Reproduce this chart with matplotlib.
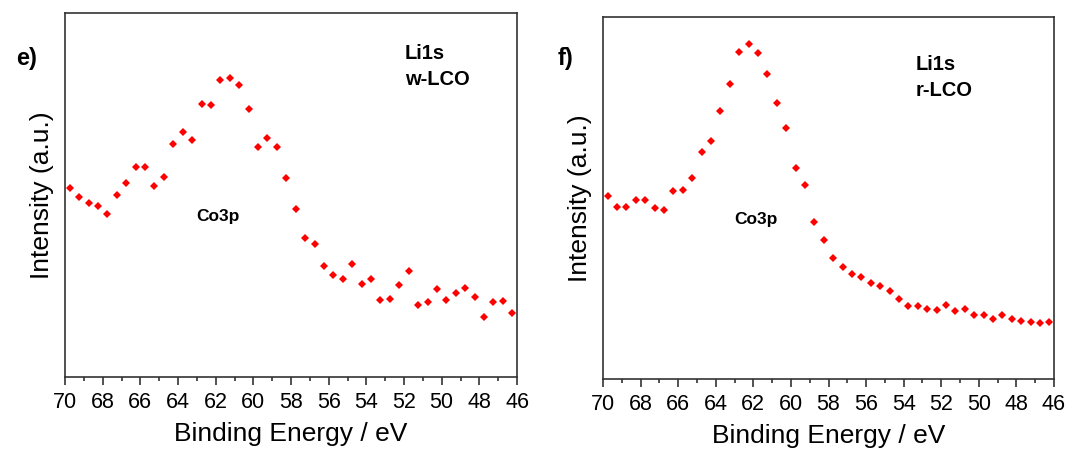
import matplotlib
matplotlib.use("Agg")
import matplotlib.pyplot as plt
from matplotlib.ticker import MultipleLocator

plt.rcParams['font.family'] = ['Liberation Sans', 'DejaVu Sans']

# binding energy grid (eV), same for both scans
energy = [69.75, 69.25, 68.75, 68.25, 67.75, 67.25, 66.75, 66.25,
          65.75, 65.25, 64.75, 64.25, 63.75, 63.25, 62.75, 62.25,
          61.75, 61.25, 60.75, 60.25, 59.75, 59.25, 58.75, 58.25,
          57.75, 57.25, 56.75, 56.25, 55.75, 55.25, 54.75, 54.25,
          53.75, 53.25, 52.75, 52.25, 51.75, 51.25, 50.75, 50.25,
          49.75, 49.25, 48.75, 48.25, 47.75, 47.25, 46.75, 46.25]

# Li1s region, w-LCO (arb. units)
w_lco = [52.0, 49.4, 47.7, 47.1, 44.8, 49.9, 53.2, 57.6,
         57.8, 52.5, 55.0, 63.9, 67.4, 65.1, 74.9, 74.6,
         81.5, 82.2, 80.1, 73.7, 63.1, 65.7, 63.1, 54.7,
         46.2, 38.2, 36.5, 30.5, 28.0, 26.8, 31.0, 25.5,
         27.0, 21.2, 21.5, 25.4, 29.0, 19.9, 20.7, 24.2,
         21.2, 23.1, 24.5, 22.1, 16.4, 20.7, 20.9, 17.7]

# Li1s region, r-LCO (arb. units)
r_lco = [50.6, 47.5, 47.5, 49.4, 49.4, 47.2, 46.6, 51.9,
         52.1, 55.4, 62.8, 65.7, 74.1, 81.4, 90.2, 92.6,
         90.0, 84.2, 76.2, 69.3, 58.3, 53.6, 43.3, 38.4,
         33.5, 31.0, 28.9, 28.3, 26.6, 25.8, 24.2, 22.2,
         20.2, 20.2, 19.4, 19.1, 20.5, 18.8, 19.3, 17.7,
         17.6, 16.7, 17.8, 16.5, 16.1, 15.7, 15.6, 15.8]

W, H = 1071, 454
fig = plt.figure(figsize=(W / 100, H / 100), dpi=100)

# letter, sample, data, axes box in px (left, bottom, right, top), label spot
panels = [
    ("e)", "w-LCO", w_lco, [65, 377, 517, 13], (0.752, 0.915)),
    ("f)", "r-LCO", r_lco, [603, 379, 1054, 17], (0.694, 0.895)),
]

for letter, sample, vals, (x0, yb, x1, yt), (tx, ty) in panels:
    ax = fig.add_axes([x0 / W, (H - yb) / H, (x1 - x0) / W, (yb - yt) / H])
    ax.plot(energy, vals, 'D', color='#ff0000', markersize=3.8, markeredgewidth=0)
    ax.set_xlim(70, 46)
    ax.set_ylim(0, 100)
    ax.xaxis.set_major_locator(MultipleLocator(2))
    ax.xaxis.set_minor_locator(MultipleLocator(1))
    ax.set_yticks([])
    ax.tick_params(axis='x', which='major', direction='out', length=6, width=1.1,
                   labelsize=15.5, pad=4.5, colors='#222222', labelcolor='black')
    ax.tick_params(axis='x', which='minor', direction='out', length=3, width=1.1,
                   colors='#222222')
    for s in ax.spines.values():
        s.set_linewidth(1.2)
        s.set_color('#333333')
    ax.set_xlabel("Binding Energy / eV", fontsize=19, labelpad=7)
    ax.set_ylabel("Intensity (a.u.)", fontsize=19, labelpad=8)

    ax.text(tx, ty, "Li1s\n" + sample, transform=ax.transAxes,
            fontsize=14.5, fontweight='bold', va='top', ha='left', linespacing=1.45)
    ax.text(0.29, 0.44, "Co3p", transform=ax.transAxes,
            fontsize=12.5, fontweight='bold', ha='left', va='center')
    fig.text((x0 - 38) / W, (H - 58) / H, letter, fontsize=17, fontweight='bold',
             ha='center', va='center')

fig.savefig("out.png", dpi=100, facecolor='white')
